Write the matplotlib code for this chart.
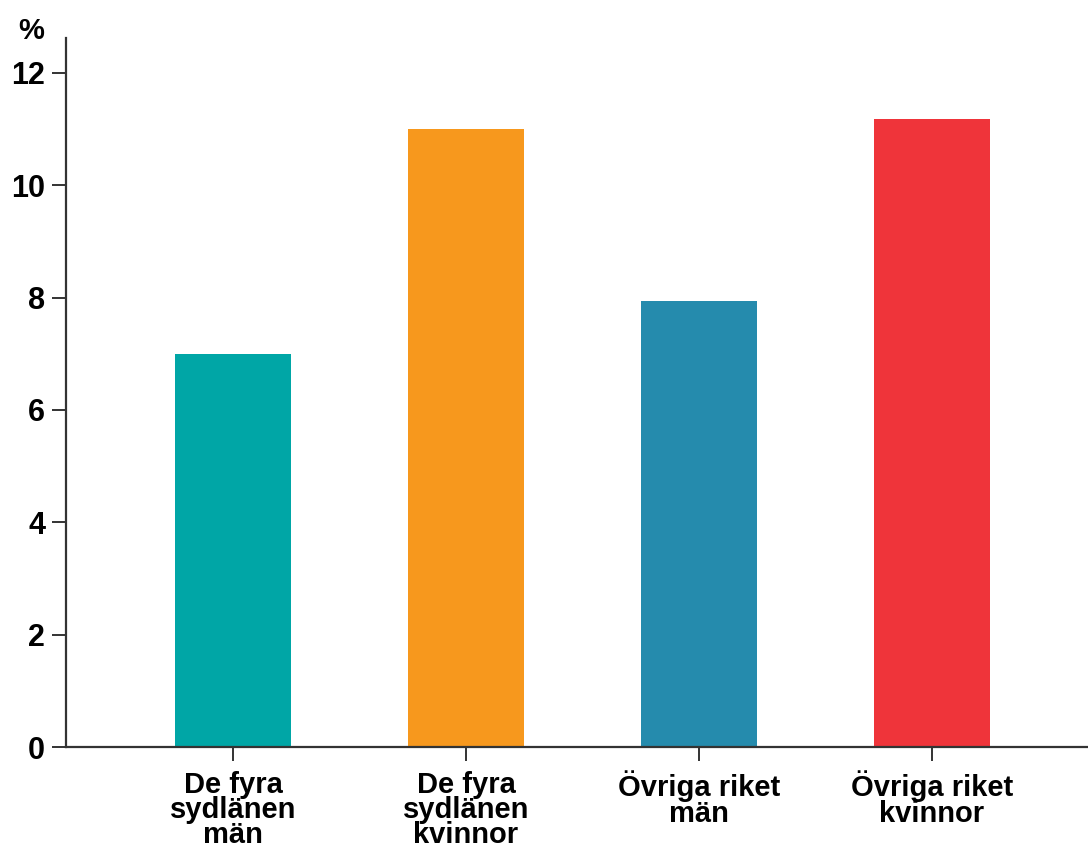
import matplotlib.pyplot as plt
import numpy as np

plt.rcParams['font.family'] = ['Liberation Sans', 'DejaVu Sans']
plt.rcParams['font.weight'] = 'bold'

# data
categories = ['De fyra\nsydlänen\nmän', 'De fyra\nsydlänen\nkvinnor',
              'Övriga riket\nmän', 'Övriga riket\nkvinnor']
values = [7.0, 11.0, 7.93, 11.17]
colors = ['#00a6a6', '#f7981d', '#258bad', '#ef343a']
yticks = [0, 2, 4, 6, 8, 10, 12]

fig = plt.figure(figsize=(10.88, 8.48), dpi=100)
ax = fig.add_axes([0.0607, 0.1191, 0.9393, 0.8361])

x = np.arange(len(categories))
ax.bar(x, values, width=0.5, color=colors, zorder=2)

ax.set_xlim(-0.717, 3.67)
ax.set_ylim(0, 12.62)
ax.set_xticks(x)
ax.set_xticklabels(categories, fontsize=21, fontweight='bold', linespacing=0.88)
ax.set_yticks(yticks)
ax.set_yticklabels([str(v) for v in yticks], fontsize=22, fontweight='bold')

for s in ['top', 'right']:
    ax.spines[s].set_visible(False)
for s in ['left', 'bottom']:
    ax.spines[s].set_color('#333333')
    ax.spines[s].set_linewidth(1.6)

ax.tick_params(axis='both', direction='out', length=10, width=1.4, color='#333333')
ax.tick_params(axis='x', pad=7)
ax.tick_params(axis='y', pad=5)

fig.text(0.029, 0.964, '%', fontsize=21, fontweight='bold', ha='center', va='center')

fig.savefig('out.png', dpi=100, facecolor='white')
